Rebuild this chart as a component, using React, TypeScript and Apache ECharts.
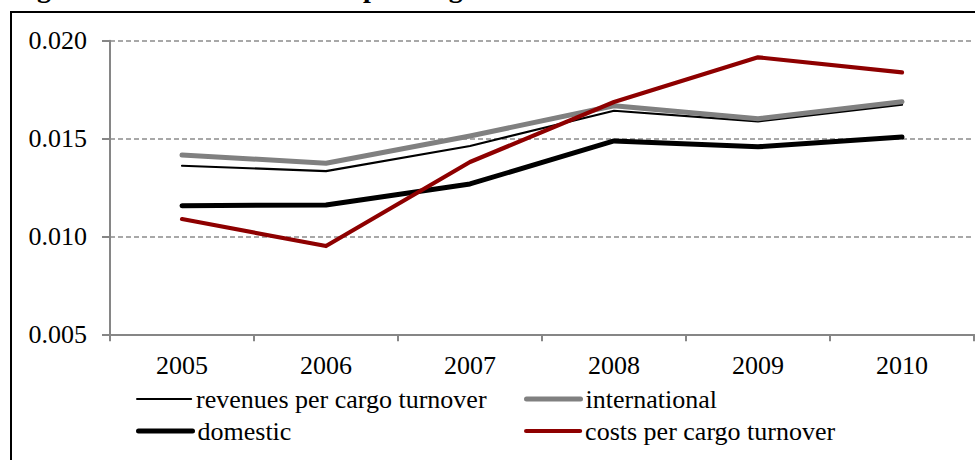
import React, { useEffect, useRef } from "react";
import * as echarts from "echarts";

const years = ["2005", "2006", "2007", "2008", "2009", "2010"];
const revenues = [0.01361, 0.01334, 0.01462, 0.01642, 0.01588, 0.01673];
const international = [0.01416, 0.01374, 0.01513, 0.01668, 0.01601, 0.01688];
const domestic = [0.01157, 0.01161, 0.01268, 0.01488, 0.01458, 0.01508];
const costs = [0.01089, 0.00951, 0.0138, 0.01687, 0.01915, 0.01838];
const titleText = "Figure 3. Revenues and costs per cargo turnover";

const FONT = "'Liberation Serif', 'Times New Roman', serif";

export default function App() {
  const ref = useRef<HTMLDivElement>(null);
  useEffect(() => {
    if (!ref.current) return;
    const chart = echarts.init(ref.current, null, { renderer: "svg" });
    const mkSeries = (name: string, data: number[], color: string, width: number) => ({
      name,
      type: "line",
      data,
      symbol: "none",
      showSymbol: false,
      color,
      lineStyle: { color, width, cap: "round", join: "round" },
    });
    const mkLegend = (name: string, left: number, top: number, color: string, width: number) => ({
      data: [name],
      left,
      top,
      itemWidth: 54,
      itemHeight: 10,
      padding: 0,
      itemStyle: { opacity: 0 },
      lineStyle: { color, width, cap: "round" },
      textStyle: { fontFamily: FONT, fontSize: 26, color: "#000", padding: [0, 0, 0, 0] },
    });
    chart.setOption({
      animation: false,
      backgroundColor: "#fff",
      textStyle: { fontFamily: FONT },
      grid: { left: 110, right: 1, top: 40.7, bottom: 125.7, containLabel: false },
      xAxis: {
        type: "category",
        data: years,
        boundaryGap: true,
        axisLine: { lineStyle: { color: "#868686", width: 2 } },
        axisTick: { show: true, length: 7, interval: 0, lineStyle: { color: "#868686", width: 2 } },
        axisLabel: { fontFamily: FONT, fontSize: 26, color: "#000", margin: 18 },
        splitLine: { show: false },
      },
      yAxis: {
        type: "value",
        min: 0.005,
        max: 0.02,
        interval: 0.005,
        axisLine: { show: true, lineStyle: { color: "#868686", width: 2 } },
        axisTick: { show: true, length: 8, lineStyle: { color: "#868686", width: 2 } },
        axisLabel: {
          fontFamily: FONT,
          fontSize: 26,
          color: "#000",
          margin: 23,
          formatter: (v: number) => v.toFixed(3),
        },
        splitLine: { show: true, lineStyle: { color: "#8c8c8c", width: 1.5, type: [5, 3] } },
      },
      legend: [
        mkLegend("revenues per cargo turnover", 136, 386, "#000000", 2.2),
        mkLegend("international", 524, 386, "#808080", 5),
        mkLegend("domestic", 136, 418, "#000000", 5),
        mkLegend("costs per cargo turnover", 524, 418, "#8e0000", 4.2),
      ],
      graphic: [
        {
          type: "rect",
          shape: { x: 11, y: 12, width: 1100, height: 600 },
          style: { fill: "none", stroke: "#000", lineWidth: 2 },
          silent: true,
        },
        {
          type: "text",
          x: 12,
          y: 1,
          style: {
            text: titleText,
            fontFamily: FONT,
            fontWeight: "bold",
            fontSize: 28,
            fill: "#000",
            verticalAlign: "bottom",
          },
        },
      ],
      series: [
        mkSeries("revenues per cargo turnover", revenues, "#000000", 2.2),
        mkSeries("international", international, "#808080", 5),
        mkSeries("domestic", domestic, "#000000", 5),
        mkSeries("costs per cargo turnover", costs, "#8e0000", 4.2),
      ],
    });
    return () => chart.dispose();
  }, []);
  return (
    <div
      ref={ref}
      style={{ position: "fixed", left: 0, top: 0, width: 975, height: 460 }}
    />
  );
}
